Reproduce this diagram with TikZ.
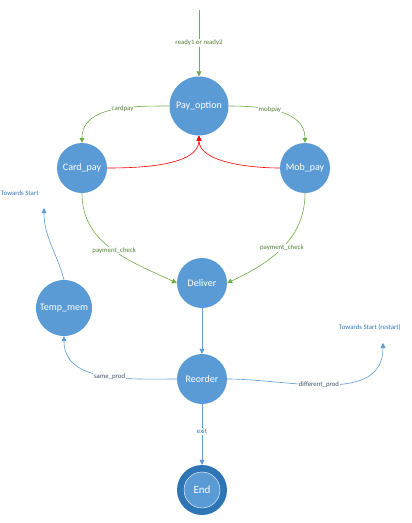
\documentclass[tikz,border=0pt]{standalone}
\usepackage{fontspec}
\setmainfont{Carlito}
\usetikzlibrary{arrows.meta}
\definecolor{nodeblue}{HTML}{5B9BD5}
\definecolor{enddark}{HTML}{2E75B6}
\definecolor{lgreen}{HTML}{70AD47}
\definecolor{tgreen}{HTML}{548235}
\definecolor{tblue}{HTML}{2E75B6}
\definecolor{tgray}{HTML}{44546A}
\definecolor{lred}{HTML}{FF0000}
\tikzset{
  state/.style={circle, fill=nodeblue, text=white, font=\fontsize{10}{12}\selectfont, minimum size=50pt, inner sep=0pt},
  tip/.style={-{Triangle[width=5pt,length=5pt]}},
  gline/.style={tip, draw=lgreen, line width=0.6pt},
  rline/.style={tip, draw=lred, line width=0.6pt},
  bline/.style={tip, draw=nodeblue, line width=0.6pt},
  lab/.style={font=\fontsize{6.8}{8}\selectfont, fill=white, inner sep=0.8pt},
  glab/.style={lab, text=tgreen},
  blab/.style={lab, text=tblue},
  gylab/.style={lab, text=tgray}
}
\begin{document}
\begin{tikzpicture}[x=1pt,y=-1pt]
\useasboundingbox (0,0) rectangle (412,523);
\node[state, minimum size=59pt] (pay) at (199,106) {Pay\_option};
\node[state] (card) at (82,168) {Card\_pay};
\node[state] (mob) at (305,168) {Mob\_pay};
\node[state] (del) at (202,283) {Deliver};
\node[state] (reo) at (202,379) {Reorder};
\node[state, minimum size=56pt] (temp) at (64,308) {Temp\_mem};
\node[circle, fill=enddark, minimum size=50pt, inner sep=0pt] (endo) at (202,490) {};
\node[circle, fill=nodeblue, draw=white, line width=0.4pt, minimum size=36pt, inner sep=0pt, text=white, font=\fontsize{11}{13}\selectfont] (end) at (202,490) {End};
\coordinate (start) at (199,10);
\coordinate (tstart) at (44,208);
\coordinate (trestart) at (383,343);
\node[blab, fill=none, anchor=west] (tslab) at (0,193) {Towards Start};
\node[blab, fill=none] (trlab) at (370,327) {Towards Start (restart)};
% green
\draw[gline] (start) -- node[glab, pos=0.5] {ready1 or ready2} (pay.north);
\draw[gline] (pay.west) to[out=180,in=90] node[glab, pos=0.4] {cardpay} (card.north);
\draw[gline] (pay.east) to[out=0,in=90] node[glab, pos=0.4] {mobpay} (mob.north);
\draw[gline] (card.south) to[out=-90,in=155] node[glab, pos=0.52] {payment\_check} (del.west);
\draw[gline] (mob.south) to[out=-90,in=25] node[glab, pos=0.5] {payment\_check} (del.east);
% red
\draw[rline] (card.east) to[out=0,in=-90,looseness=0.8] (pay.south);
\draw[rline] (mob.west) to[out=180,in=-90,looseness=0.8] (pay.south);
% blue
\draw[bline] (del.south) -- (reo.north);
\draw[bline] (reo.south) -- node[blab, pos=0.45] {exit} (endo.north);
\draw[bline] (reo.west) to[out=180,in=-90] node[gylab, pos=0.45] {same\_prod} (temp.south);
\draw[bline] (temp.north) to[out=105,in=-90] (tstart);
\draw[bline] (reo.east) to[out=0,in=-90] node[gylab, pos=0.45] {different\_prod} (trestart);
\end{tikzpicture}
\end{document}
